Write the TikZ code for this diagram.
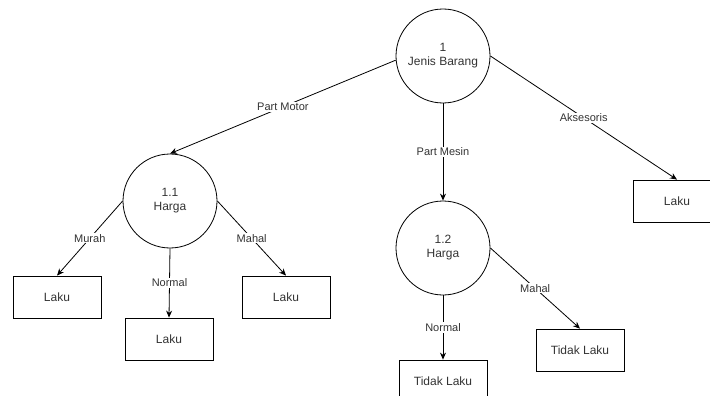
\documentclass[tikz,border=0pt]{standalone}
\usepackage{fontspec}
\setmainfont{Liberation Sans}
\usetikzlibrary{arrows.meta}
\tikzset{
  proses/.style={draw,circle,minimum size=94pt,inner sep=0pt,align=center,font=\fontsize{12}{14}\selectfont,text=black!80},
  kotak/.style={draw,rectangle,minimum width=88pt,minimum height=42pt,inner sep=0pt,font=\fontsize{12}{14}\selectfont,text=black!80},
  alur/.style={-{Stealth[length=7pt,width=6pt]},line width=0.8pt},
  ket/.style={fill=white,inner sep=1pt,font=\fontsize{11}{13}\selectfont,text=black!80}
}
\begin{document}
\begin{tikzpicture}[x=1pt,y=-1pt,line width=0.8pt]
 \useasboundingbox (0,0) rectangle (710,396);
 % proses
 \node[proses] (jenis) at (443,56) {1\\Jenis Barang};
 \node[proses] (harga1) at (170,201) {1.1\\Harga};
 \node[proses] (harga2) at (443,248) {1.2\\Harga};
 % hasil
 \node[kotak] (lakuA) at (677,201) {Laku};
 \node[kotak] (lakuM) at (57,297) {Laku};
 \node[kotak] (lakuN) at (169,339) {Laku};
 \node[kotak] (lakuH) at (286,297) {Laku};
 \node[kotak] (tidakN) at (443,381) {Tidak Laku};
 \node[kotak] (tidakH) at (580,350) {Tidak Laku};
 % alur
 \draw[alur] (jenis.185) -- node[ket]{Part Motor} (harga1.north);
 \draw[alur] (jenis.south) -- node[ket]{Part Mesin} (harga2.north);
 \draw[alur] (jenis.east) -- node[ket]{Aksesoris} (lakuA.north);
 \draw[alur] (harga1.west) -- node[ket]{Murah} (lakuM.north);
 \draw[alur] (harga1.south) -- node[ket]{Normal} (lakuN.north);
 \draw[alur] (harga1.east) -- node[ket]{Mahal} (lakuH.north);
 \draw[alur] (harga2.south) -- node[ket]{Normal} (tidakN.north);
 \draw[alur] (harga2.east) -- node[ket]{Mahal} (tidakH.north);
\end{tikzpicture}
\end{document}
